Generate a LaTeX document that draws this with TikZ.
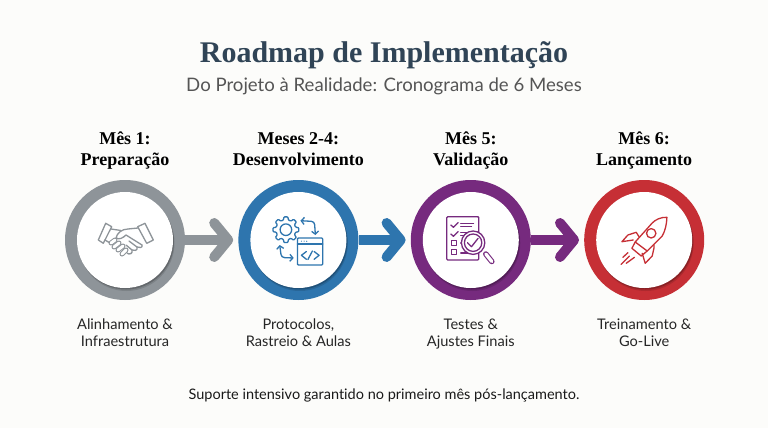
\documentclass[tikz,border=0pt]{standalone}
\usepackage{xcolor}
\usepackage{fontspec}
\setmainfont[Ligatures=NoCommon]{Lato}
\newfontfamily\headfont{Liberation Serif}
\usetikzlibrary{arrows.meta,positioning,shadows}
\definecolor{paper}{RGB}{252,252,250}
\definecolor{titleblue}{RGB}{48,68,86}
\definecolor{subgray}{RGB}{85,85,85}
\definecolor{stonegray}{RGB}{142,148,153}
\definecolor{roadblue}{RGB}{46,117,174}
\definecolor{roadpurple}{RGB}{118,42,126}
\definecolor{roadred}{RGB}{198,47,53}
\tikzset{
  iconline/.style={line width=1.3pt, line join=round, line cap=round},
  minitip/.style={{Straight Barb[length=3pt,width=7pt]}-{Straight Barb[length=3pt,width=7pt]}},
  pics/handshake/.style={code={
    \begin{scope}[iconline, stonegray]
    \draw (-19.3,-16.7) -- (-26.7,0) -- (-21.7,3.3) -- (-13.3,-13.3) -- cycle;
    \draw (20,-16.7) -- (12.7,-13.3) -- (21.7,3.3) -- (28.3,0) -- cycle;
    \draw (-14,-11) -- (-4,-9.5);
    \draw (13,-12) -- (3,-11) .. controls (-3,-11) and (-8,-7) .. (-9,-2) .. controls (-6,0) and (-2,-2) .. (1,-5) -- (17,5);
    \draw (-20,0) -- (-15,3);
    \draw (17,5) .. controls (18,8) and (14,8) .. (12,7) -- (4,1);
    \draw (12,7) .. controls (13,11) and (9,11) .. (7,10) -- (1,5);
    \draw (7,10) .. controls (8,14) and (4,15) .. (2,13);
    \foreach \fx/\fy/\gx/\gy in {-14/3/-10/0, -11/7/-6/3, -7/10/-2/6, -3/14/1/10} {
      \draw[line width=5pt] (\fx,\fy) -- (\gx,\gy);
      \draw[white, line width=3pt] (\fx,\fy) -- (\gx,\gy);
    }
    \end{scope}
  }},
  pics/devcycle/.style={code={
    \begin{scope}[iconline, roadblue]
    \draw[shift={(-12.5,-10.3)}, rounded corners=0.8pt] (-14:10) \foreach \a in {0,45,...,315} { -- (\a-14:10) -- (\a-9:13) -- (\a+9:13) -- (\a+14:10) } -- cycle;
    \draw (-12.5,-10.3) circle (5.8);
    \draw[rounded corners=1pt] (-1,-2) rectangle (24.3,25);
    \draw (-1,4) -- (24.3,4);
    \foreach \dx in {3,5.7,8.3} \fill (\dx,1.2) circle (0.6);
    \draw (8,11.5) -- (3,15.3) -- (8,19.3);
    \draw (14,11) -- (9.5,19.5);
    \draw (15.7,11.5) -- (20.7,15.3) -- (15.7,19.3);
    \draw[minitip, rounded corners=3pt] (2,-19.3) -- (16,-18.5) -- (17,-5);
    \draw[minitip, rounded corners=3pt] (-18.7,5) -- (-17,17.5) -- (-4.7,18);
    \end{scope}
  }},
  pics/checklist/.style={code={
    \begin{scope}[iconline, roadpurple]
    \draw[rounded corners=1pt] (-24,-23.3) rectangle (8,20);
    \draw (-20,-15) -- (-17.3,-12.7) -- (-12.7,-17.3);
    \draw (-20,-6) -- (-17.3,-3.7) -- (-12.7,-8.3);
    \draw (-10,-16.7) -- (2.7,-16.7) (-10,-13.3) -- (0.7,-13.3);
    \draw (-10,-7.7) -- (-3,-7.7) (-10,-4.3) -- (-5,-4.3);
    \draw (-19.3,0.7) rectangle (-14.3,5.7);
    \draw (-19.3,9.3) rectangle (-14.3,14.3);
    \draw (-10,3) -- (-8,3) (-10,13) -- (-3,13);
    \fill[white] (2.3,2.7) circle (11.7);
    \draw (2.3,2.7) circle (11.7) (2.3,2.7) circle (8.7);
    \draw (-3.3,2.7) -- (0.7,6.7) -- (7.3,-1.7);
    \draw[line width=5.5pt] (15,14) -- (21,21.5);
    \draw[white, line width=3.3pt] (15,14) -- (21,21.5);
    \end{scope}
  }},
  pics/rocket/.style={code={
    \begin{scope}[iconline, roadred]
    \draw (22.7,-22.7) .. controls (16,-23) and (11,-20) .. (8,-17) -- (-9,2) -- (3,11) -- (18,-4) .. controls (21,-9) and (22.5,-16) .. (22.7,-22.7) -- cycle;
    \draw (7,-6.7) circle (4.7);
    \draw (-5,-3) -- (-8,-7.7) -- (-16.3,-5) -- (-22.3,1.7) -- (-11,0);
    \draw (9.7,5) -- (9.7,8.3) -- (8,16) -- (1,23.3) -- (-2,13.3);
    \draw (-9,2) -- (-12.3,8.3) -- (-3,16) -- (3,11);
    \draw (-23,24.3) -- (-14.7,16) (-18,23.3) -- (-9.7,17.3) (-21.3,17.3) -- (-16.3,12.7);
    \end{scope}
  }}
}
\begin{document}
\begin{tikzpicture}[
  x=1pt, y=-1pt,
  node distance=53pt,
  ring/.style={circle, inner sep=0pt, minimum size=120pt},
  hole/.style={circle, inner sep=0pt, minimum size=96pt, fill=white,
    drop shadow={shadow xshift=1pt, shadow yshift=-1.5pt, opacity=.2, fill=black},
    drop shadow={shadow xshift=1.5pt, shadow yshift=-3pt, opacity=.12, fill=black}},
  arr/.style={line width=10pt, -{Straight Barb[length=14pt,width=34pt,round]}, shorten >=5pt},
  hdr/.style={align=center, font=\headfont\bfseries\fontsize{18}{21}\selectfont},
  desc/.style={align=center, text=black!85, font=\fontsize{14.6}{17.5}\selectfont}
]
\useasboundingbox[fill=paper] (0,0) rectangle (768,428);
\node[font=\headfont\bfseries\fontsize{30}{36}\selectfont, text=titleblue] (maintitle) at (384,55) {Roadmap de Implementação};
\node[font=\fontsize{18.6}{24}\selectfont, text=subgray] (subtitle) at (384,86) {Do Projeto à Realidade: Cronograma de 6 Meses};

\node[ring, fill=stonegray] (prep) at (125,240) {};
\node[ring, fill=roadblue, right=of prep] (dev) {};
\node[ring, fill=roadpurple, right=52pt of dev] (valid) {};
\node[ring, fill=roadred, right=of valid] (launch) {};

\node[hole] (prephole) at (prep) {};
\node[hole] (devhole) at (dev) {};
\node[hole] (validhole) at (valid) {};
\node[hole] (launchhole) at (launch) {};

\pic at (prep) {handshake};
\pic at (dev) {devcycle};
\pic at (valid) {checklist};
\pic at (launch) {rocket};

\draw[arr, stonegray] (prep) -- (dev);
\draw[arr, roadblue] (dev) -- (valid);
\draw[arr, roadpurple] (valid) -- (launch);

\node[hdr, above=4pt of prep] (preplabel) {Mês 1:\\Preparação\strut};
\node[hdr, above=4pt of dev] (devlabel) {Meses 2-4:\\Desenvolvimento\strut};
\node[hdr, above=4pt of valid] (validlabel) {Mês 5:\\Validação\strut};
\node[hdr, above=4pt of launch] (launchlabel) {Mês 6:\\Lançamento\strut};

\node[desc, below=15pt of prep] (prepnote) {Alinhamento \&\\Infraestrutura};
\node[desc, below=15pt of dev] (devnote) {Protocolos,\\Rastreio \& Aulas};
\node[desc, below=15pt of valid] (validnote) {Testes \&\\Ajustes Finais};
\node[desc, below=15pt of launch] (launchnote) {Treinamento \&\\Go-Live};

\node[font=\fontsize{14.5}{18}\selectfont, text=black!90] (support) at (384,395) {Suporte intensivo garantido no primeiro mês pós-lançamento.};
\end{tikzpicture}
\end{document}
